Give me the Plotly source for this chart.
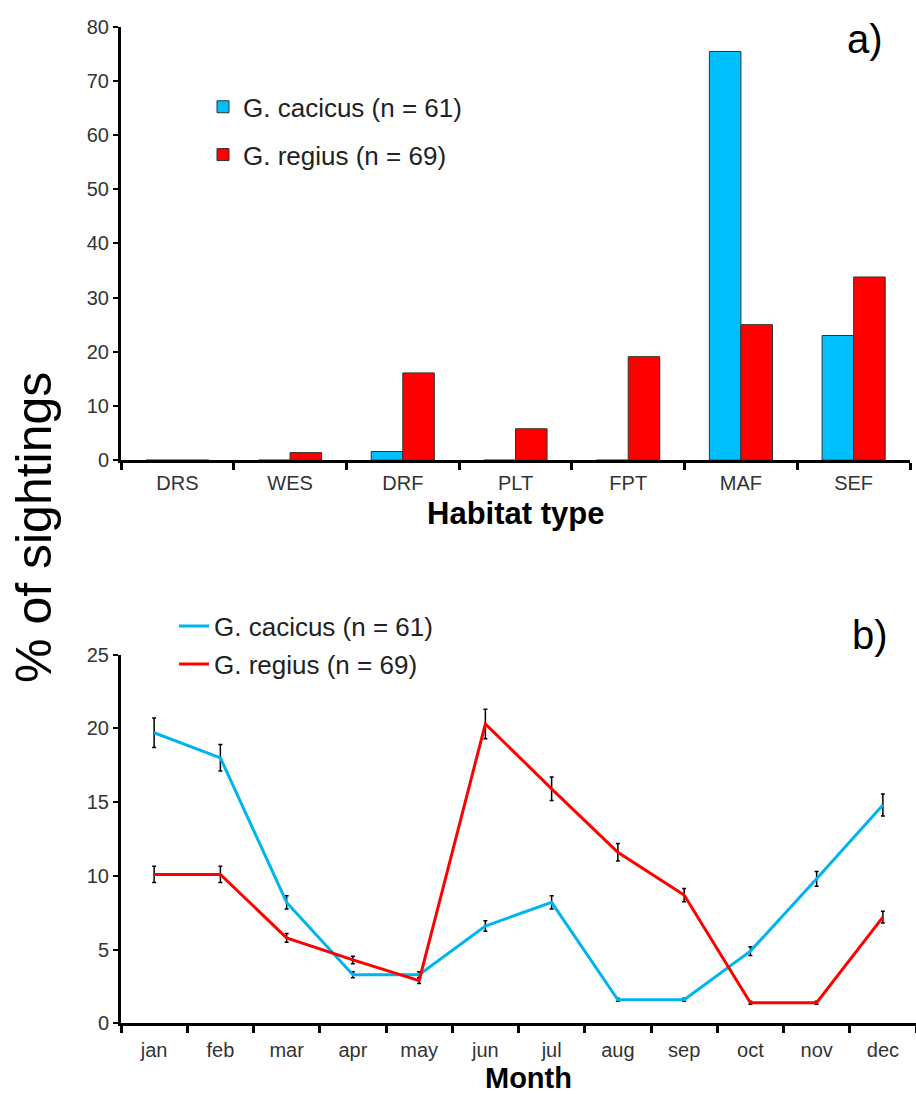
import plotly.graph_objects as go

habitats = ["DRS", "WES", "DRF", "PLT", "FPT", "MAF", "SEF"]
hab_cacicus = [0, 0, 1.6, 0, 0, 75.4, 23.0]
hab_regius = [0, 1.4, 16.1, 5.8, 19.1, 25.0, 33.8]

months = ["jan", "feb", "mar", "apr", "may", "jun", "jul", "aug", "sep", "oct", "nov", "dec"]
mon_cacicus = [19.7, 18.0, 8.2, 3.3, 3.3, 6.6, 8.2, 1.6, 1.6, 4.9, 9.8, 14.8]
mon_cacicus_err = [1.0, 0.9, 0.45, 0.2, 0.2, 0.35, 0.45, 0.1, 0.1, 0.3, 0.5, 0.75]
mon_regius = [10.1, 10.1, 5.8, 4.3, 2.9, 20.3, 15.9, 11.6, 8.7, 1.4, 1.4, 7.2]
mon_regius_err = [0.55, 0.55, 0.3, 0.25, 0.2, 1.0, 0.8, 0.6, 0.45, 0.1, 0.1, 0.4]

BLUE = "#00BFFF"
LBLUE = "#00B4F0"
RED = "#FF0000"
FONT = "Liberation Sans, Arial, sans-serif"

W, H = 916, 1094


def Y(t):
    # map a target pixel row to the layout row
    return (t - 8.4) / 0.983


fig = go.Figure()

fig.add_trace(go.Bar(x=habitats, y=hab_cacicus, name="G. cacicus (n = 61)",
                     marker=dict(color=BLUE, line=dict(color="#333333", width=1)),
                     xaxis="x", yaxis="y", legend="legend", legendgroup="a1"))
fig.add_trace(go.Bar(x=habitats, y=hab_regius, name="G. regius (n = 69)",
                     marker=dict(color=RED, line=dict(color="#333333", width=1)),
                     xaxis="x", yaxis="y", legend="legend", legendgroup="a2"))

fig.add_trace(go.Scatter(x=months, y=mon_cacicus, name="G. cacicus (n = 61)", mode="lines",
                         line=dict(color=LBLUE, width=3),
                         error_y=dict(type="data", array=mon_cacicus_err, color="black",
                                      thickness=1.5, width=2),
                         xaxis="x2", yaxis="y2", legend="legend2", legendgroup="b1"))
fig.add_trace(go.Scatter(x=months, y=mon_regius, name="G. regius (n = 69)", mode="lines",
                         line=dict(color=RED, width=3),
                         error_y=dict(type="data", array=mon_regius_err, color="black",
                                      thickness=1.5, width=2),
                         xaxis="x2", yaxis="y2", legend="legend2", legendgroup="b2"))

axis_common = dict(showgrid=False, zeroline=False, showline=True, linecolor="black",
                   ticks="outside", tickcolor="black",
                   tickfont=dict(family=FONT, size=20, color="#333333"))


def ann(text, x, y, size, bold=False, angle=0):
    return dict(text=f"<b>{text}</b>" if bold else text, x=x / W, y=1 - Y(y) / H,
                xref="paper", yref="paper", xanchor="center", yanchor="middle",
                showarrow=False, textangle=angle,
                font=dict(family=FONT, size=size, color="black"))


fig.update_layout(
    width=W, height=H,
    margin=dict(l=0, r=0, t=0, b=0),
    paper_bgcolor="white", plot_bgcolor="white",
    font=dict(family=FONT, color="black"),
    barmode="group", bargap=0.44, bargroupgap=0,
    xaxis=dict(domain=[121 / W, 910 / W], anchor="y", type="category",
               range=[-0.5, 6.5], tickson="boundaries", ticklen=7, tickwidth=3,
               ticklabelstandoff=3, linewidth=3, **axis_common),
    yaxis=dict(domain=[1 - Y(459) / H, 1 - Y(24) / H], anchor="x", range=[0, 80],
               tickvals=[0, 10, 20, 30, 40, 50, 60, 70, 80], ticklen=5, tickwidth=2,
               linewidth=3, **axis_common),
    xaxis2=dict(domain=[121 / W, 1.0], anchor="y2", type="category",
                range=[-0.5, 11.5], tickson="boundaries", ticklen=7, tickwidth=3,
                ticklabelstandoff=7, linewidth=3, **axis_common),
    yaxis2=dict(domain=[1 - Y(1024) / H, 1 - Y(654) / H], anchor="x2", range=[0, 25],
                tickvals=[0, 5, 10, 15, 20, 25], ticklen=5, tickwidth=2,
                linewidth=3, **axis_common),
    legend=dict(x=203 / W, y=1 - Y(81) / H, xanchor="left", yanchor="top",
                font=dict(family=FONT, size=26, color="#222222"),
                bgcolor="rgba(0,0,0,0)", tracegroupgap=11, traceorder="grouped"),
    legend2=dict(x=174 / W, y=1 - Y(602) / H, xanchor="left", yanchor="top",
                 font=dict(family=FONT, size=26, color="#222222"),
                 bgcolor="rgba(0,0,0,0)", tracegroupgap=1, traceorder="grouped"),
    annotations=[
        ann("a)", 865, 36, 40),
        ann("b)", 870, 634, 40),
        ann("Habitat type", 515, 512, 31, bold=True),
        ann("Month", 528, 1079, 29, bold=True),
        ann("% of sightings", 34, 527, 50, angle=-90),
    ],
)

fig.write_html("out.html", config={"displayModeBar": False},
               post_script="document.body.style.margin='0';document.body.style.overflow='hidden';")
